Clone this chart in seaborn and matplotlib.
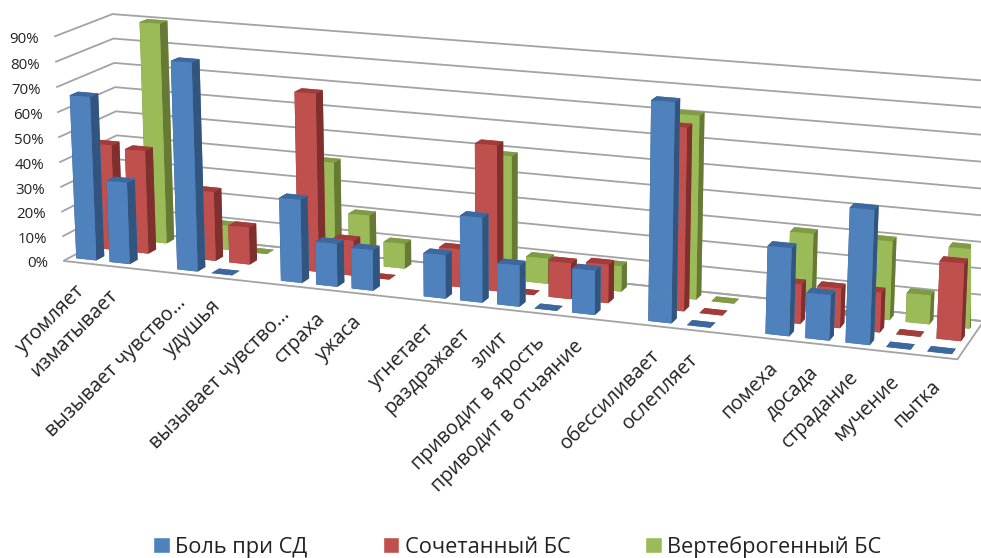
import numpy as np
import pandas as pd
import seaborn as sns
import matplotlib
matplotlib.use('Agg')
import matplotlib.pyplot as plt
from matplotlib.patches import Patch
from mpl_toolkits.mplot3d import proj3d

# empty strings are the gaps between the groups of words
categories = ['утомляет', 'изматывает', '', 'вызывает чувство…', 'удушья', '',
              'вызывает чувство…', 'страха', 'ужаса', '',
              'угнетает', 'раздражает', 'злит', 'приводит в ярость', 'приводит в отчаяние', '',
              'обессиливает', 'ослепляет', '',
              'помеха', 'досада', 'страдание', 'мучение', 'пытка']
pain_sd = [66, 33, None, 83, 0, None, 33, 17, 16, None, 17, 33, 16, 0, 17, None, 83, 0, None, 33, 17, 50, 0, 0]
combined = [43, 42, None, 28, 15, None, 71, 14, 0, None, 15, 57, 0, 14, 15, None, 70, 0, None, 15, 15, 15, 0, 29]
vertebral = [13, 90, None, 10, 0, None, 40, 20, 10, None, 10, 49, 10, 4, 10, None, 71, 0, None, 30, 0, 30, 11, 30]
series_names = ['Боль при СД', 'Сочетанный БС', 'Вертеброгенный БС']
z_ticks = [0, 10, 20, 30, 40, 50, 60, 70, 80, 90]

sns.set_theme(style='white')
plt.rcParams['font.family'] = ['Open Sans', 'DejaVu Sans']

front = sns.color_palette(['#4F81BD', '#C0504D', '#9BBB59'])
top = sns.color_palette(['#3C689E', '#A23C3A', '#7F9B43'])
side = sns.color_palette(['#31557F', '#7F2F2D', '#667A36'])

df = pd.DataFrame({'slot': np.arange(len(categories)), 'category': categories,
                   series_names[0]: pain_sd, series_names[1]: combined, series_names[2]: vertebral})
df = df.melt(id_vars=['slot', 'category'], var_name='series', value_name='value').dropna()
df['row'] = df['series'].map({n: i for i, n in enumerate(series_names)})

W, H = 981, 558
S, cx, cy = 953.2, 494.2, 188.2
fig = plt.figure(figsize=(W / 100, H / 100), dpi=100)
ax = fig.add_axes([(cx - S / 2) / W, 1 - (cy + S / 2) / H, S / W, S / H], projection='3d')
ax.view_init(elev=14.52, azim=-69.66)
ax.set_proj_type('persp', focal_length=0.5473)
ax.set_box_aspect((1, 0.1336, 0.2537))
ax.computed_zorder = False

# back rows first, then left to right, so nearer bars cover farther ones
z = 5
for (row, slot), d in df.sort_values(['row', 'slot'], ascending=[False, True]).groupby(['row', 'slot'], sort=False):
    faces = [top[row], top[row], front[row], front[row], side[row], side[row]]
    ax.bar3d(slot + 0.2, row + 0.32, 0, 0.6, 0.42, d['value'].iloc[0], color=faces,
             shade=False, zorder=z, linewidth=0)
    z += 1

ax.set_xlim(0, 24)
ax.set_ylim(0, 3)
ax.set_zlim(0, 90)
ax.set_xticks([])
ax.set_yticks([])
ax.set_zticks(z_ticks)
ax.set_zticklabels([])
ax.tick_params(axis='z', colors='none')
ax.zaxis._axinfo['grid'].update(color='#a3a3a3', linewidth=1.3)
ax.grid(True)
for axis in [ax.xaxis, ax.yaxis, ax.zaxis]:
    axis.line.set_color('none')
    axis.set_pane_color('white')
ax.xaxis.pane.set_edgecolor('none')
ax.yaxis.pane.set_edgecolor('none')
ax.zaxis.pane.set_edgecolor('#a3a3a3')
ax.zaxis.pane.set_linewidth(1.3)


# 3d text ignores rotation, so labels are 2d annotations at the projected point
def to_2d(x, y, z):
    px, py, _ = proj3d.proj_transform(x, y, z, ax.get_proj())
    return px, py


for v in z_ticks:
    ax.annotate(f'{v}%', to_2d(0, 0, v), xytext=(-15, -3), textcoords='offset pixels',
                ha='right', va='center', fontsize=10.8, color='#222222', annotation_clip=False)
for i, c in enumerate(categories):
    if c:
        ax.annotate(c, to_2d(i + 0.5, 0, 0), xytext=(-6, -19), textcoords='offset pixels',
                    rotation=45, ha='right', va='top', rotation_mode='anchor',
                    fontsize=14.2, color='#222222', annotation_clip=False)

handles = [Patch(facecolor=front[i], label=series_names[i]) for i in range(3)]
fig.legend(handles=handles, loc='lower center', bbox_to_anchor=(0.5275, 0.0), ncol=3, frameon=False,
           fontsize=15.7, handlelength=0.75, handleheight=0.75, handletextpad=0.25, columnspacing=3.45,
           labelcolor='#222222', borderaxespad=0, borderpad=0)

fig.savefig('out.png', dpi=100)
